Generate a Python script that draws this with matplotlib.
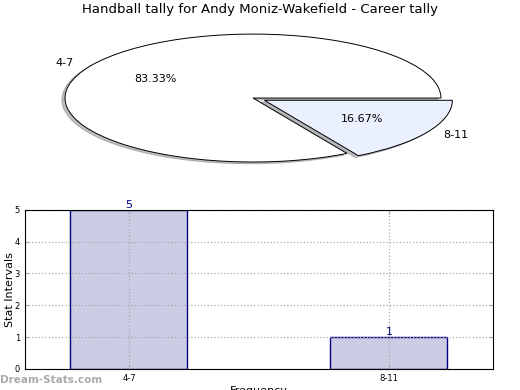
import matplotlib
matplotlib.use("Agg")
from matplotlib import pyplot as plt

# data
intervals = ["4-7", "8-11"]
counts = [5, 1]
pie_colors = ["#ffffff", "#ebf0fe"]
explode = [0, 0.07]

fig = plt.figure(figsize=(5.2, 3.9), dpi=100)

fig.text(0.5, 0.975, "Handball tally for Andy Moniz-Wakefield - Career tally",
         ha="center", va="center", fontsize=9.5)

# top: stretched pie with shadow
ax1 = fig.add_axes([0.125, 0.5846, 0.723, 0.328])
wedges, texts, autotexts = ax1.pie(counts, labels=intervals, colors=pie_colors,
                                   explode=explode, startangle=0,
                                   shadow={"ox": -0.012, "oy": -0.02, "shade": 0.5},
                                   autopct="%1.2f%%", pctdistance=0.6, labeldistance=1.1,
                                   wedgeprops=dict(edgecolor="black", linewidth=0.7),
                                   textprops=dict(fontsize=8))
ax1.set_aspect("auto")
ax1.set_xlim(-1, 1)
ax1.set_ylim(-1, 1)
for t in texts + autotexts:
    t.set_clip_on(False)

# bottom: bar chart
ax2 = fig.add_axes([0.048, 0.054, 0.9, 0.408])
pos = list(range(len(intervals)))
ax2.bar(pos, counts, width=0.45, color="#ccccE5", edgecolor="#000080", linewidth=1)
for x, c in zip(pos, counts):
    ax2.text(x, c, str(c), ha="center", va="bottom", color="#000080", fontsize=8)
ax2.set_xlim(-0.4, 1.4)
ax2.set_ylim(0, 5)
ax2.set_xticks(pos)
ax2.set_xticklabels(intervals)
ax2.set_yticks(range(0, 6))
ax2.tick_params(direction="in", labelsize=6, length=3, top=True, right=True, color="#aaaaaa")
ax2.grid(True, linestyle=":", color="#aaaaaa", linewidth=0.9)
for s in ax2.spines.values():
    s.set_zorder(3)
ax2.set_ylabel("Stat Intervals", fontsize=8)
ax2.yaxis.set_label_coords(-0.022, 0.5)
ax2.set_xlabel("Frequency", fontsize=8)
ax2.xaxis.set_label_coords(0.5, -0.11)

fig.text(0.0, 0.025, "Dream-Stats.com", fontsize=7.5, color="#aaaaaa",
         fontweight="bold", ha="left", va="center")

fig.savefig("out.png", dpi=100)
